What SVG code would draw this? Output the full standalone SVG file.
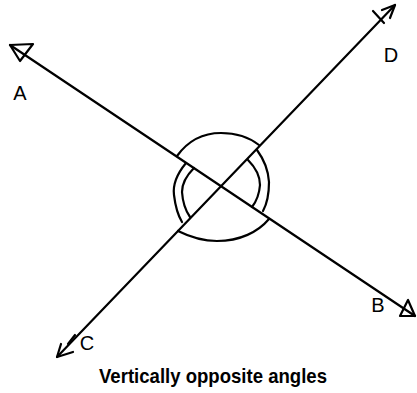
<svg xmlns="http://www.w3.org/2000/svg" width="417" height="393" viewBox="0 0 417 393">
<style>
.ln{stroke:#000;stroke-width:2.2;fill:none;stroke-linecap:round;stroke-linejoin:round}
.lbl{font-family:"Liberation Sans",Arial,sans-serif;font-size:20px;fill:#000;text-anchor:middle}
.ttl{font-family:"Liberation Sans",Arial,sans-serif;font-size:21px;font-weight:bold;fill:#000}
</style>
<rect width="417" height="393" fill="#fff"/>
<g id="connectors">
<path class="ln" d="M10,45 L415,316"/>
<path class="ln" d="M57,357 L395,5"/>
</g>
<g id="arrow-A"><path class="ln" d="M10,45 L33,44 L20,61 Z"/></g>
<g id="arrow-D"><path class="ln" d="M382,10 L395,5 L390,18 M373,11 L384,23"/></g>
<g id="arrow-B"><path class="ln" d="M415,316 L408,300 L400,316 Z"/></g>
<g id="arrow-C"><path class="ln" d="M61,344 L57,357 L73,352 M75,335 L68,344"/></g>
<g id="angle-top"><path class="ln" d="M177,156 C190,138 205,133 221,133 C238,133 250,138 259,145"/></g>
<g id="angle-bottom"><path class="ln" d="M178,231 C190,237 205,241 217,241 C240,241 258,232 269,219"/></g>
<g id="angle-left">
<path class="ln" d="M186,163 Q172,180 174,195 Q176,212 182,222"/>
<path class="ln" d="M194,168 Q182,180 182,192 Q183,207 190,217"/>
</g>
<g id="angle-right">
<path class="ln" d="M257,150 Q268,165 269,182 Q269,200 263,211"/>
<path class="ln" d="M248,160 Q260,172 260,185 Q259,198 252,207"/>
</g>
<g id="label-A"><text class="lbl" x="20" y="100">A</text></g>
<g id="label-D"><text class="lbl" x="391" y="62">D</text></g>
<g id="label-B"><text class="lbl" x="378" y="312">B</text></g>
<g id="label-C"><text class="lbl" x="87" y="350">C</text></g>
<g id="title"><text class="ttl" x="99" y="383" textLength="228" lengthAdjust="spacingAndGlyphs">Vertically opposite angles</text></g>
</svg>
